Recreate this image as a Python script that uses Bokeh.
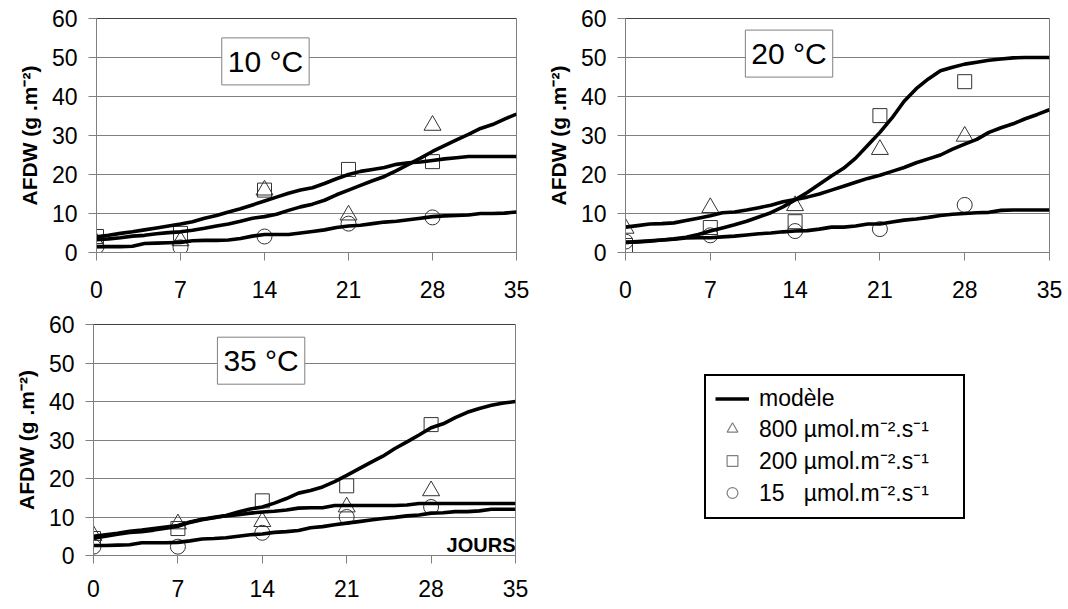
from bokeh.plotting import figure
from bokeh.models import Range1d, FixedTicker, Label, Legend, LegendItem, Span
from bokeh.layouts import column, row
from bokeh.embed import file_html
from bokeh.resources import INLINE

FONT = "Liberation Sans"

# ---------------- data ----------------
days_model = list(range(0, 36))
days_obs = [0, 7, 14, 21, 28]
x_ticks = [0, 7, 14, 21, 28, 35]
y_ticks = [0, 10, 20, 30, 40, 50, 60]

# 10 °C
m10_a = [4.0, 4.4, 4.9, 5.3, 5.8, 6.3, 6.8, 7.3, 7.9, 8.8, 9.5, 10.4, 11.2, 12.2, 13.2, 14.2, 15.2, 16.0,
         16.6, 17.7, 18.9, 20.0, 20.8, 21.3, 21.8, 22.6, 23.0, 23.2, 23.6, 24.0, 24.3, 24.6, 24.6, 24.6, 24.6, 24.6]
m10_b = [3.3, 3.5, 3.8, 4.2, 4.4, 4.8, 5.1, 5.3, 5.7, 6.2, 6.8, 7.3, 8.0, 8.8, 9.2, 9.8, 10.8, 11.7,
         12.4, 13.4, 14.8, 16.0, 17.2, 18.4, 19.5, 21.0, 22.6, 24.2, 25.9, 27.4, 28.9, 30.3, 31.8, 32.8, 34.2, 35.5]
m10_c = [1.5, 1.5, 1.5, 1.6, 2.3, 2.4, 2.5, 2.6, 3.0, 3.1, 3.1, 3.2, 3.6, 4.2, 4.6, 4.6, 4.6, 5.0,
         5.4, 5.8, 6.4, 6.8, 7.0, 7.4, 7.8, 8.0, 8.4, 8.8, 9.2, 9.4, 9.5, 9.6, 10.0, 10.0, 10.1, 10.4]
o10_800 = [2.5, 3.0, 16.0, 9.6, 32.6]
o10_200 = [4.1, 4.9, 16.0, 21.3, 23.3]
o10_15 = [1.5, 1.3, 4.1, 7.4, 9.0]

# 20 °C
m20_a = [2.6, 2.7, 2.9, 3.2, 3.5, 3.9, 4.6, 5.5, 6.3, 7.1, 8.0, 9.1, 10.2, 11.7, 13.5, 15.4, 17.5, 19.6,
         21.6, 24.2, 27.5, 30.8, 34.5, 38.8, 42.0, 44.5, 46.6, 47.5, 48.3, 48.8, 49.3, 49.6, 49.9, 50.0, 50.0, 50.0]
m20_b = [6.5, 6.9, 7.3, 7.4, 7.6, 8.2, 8.8, 9.4, 10.2, 10.4, 10.9, 11.5, 12.1, 13.0, 13.6, 14.2, 15.0, 16.0,
         17.0, 18.0, 19.0, 19.8, 20.8, 21.8, 23.0, 24.0, 25.0, 26.5, 27.8, 29.0, 30.8, 32.0, 33.0, 34.3, 35.4, 36.6]
m20_c = [2.6, 2.8, 3.0, 3.2, 3.4, 3.7, 3.8, 3.8, 4.0, 4.2, 4.5, 4.8, 5.0, 5.3, 5.5, 5.6, 6.0, 6.5,
         6.5, 6.8, 7.3, 7.3, 7.8, 8.3, 8.6, 9.0, 9.5, 9.8, 10.0, 10.2, 10.3, 10.8, 10.9, 10.9, 10.9, 10.9]
o20_800 = [6.2, 11.5, 12.0, 26.4, 29.8]
o20_200 = [1.8, 6.4, 7.9, 35.1, 43.8]
o20_15 = [2.8, 4.4, 5.5, 6.0, 12.2]

# 35 °C
m35_a = [5.0, 5.4, 5.8, 6.3, 6.6, 7.0, 7.4, 7.8, 8.7, 9.4, 9.9, 10.4, 11.3, 12.1, 12.6, 13.6, 14.8, 16.2,
         16.9, 17.8, 19.2, 20.8, 22.5, 24.2, 25.8, 27.8, 29.5, 31.3, 33.2, 34.2, 35.8, 37.2, 38.2, 39.0, 39.6, 40.0]
m35_b = [4.5, 5.0, 5.5, 6.0, 6.2, 6.6, 7.1, 7.6, 8.6, 9.3, 9.8, 10.3, 10.6, 11.0, 11.3, 11.5, 11.8, 12.3,
         12.4, 12.4, 13.0, 13.0, 13.0, 13.0, 13.0, 13.0, 13.1, 13.5, 13.5, 13.5, 13.5, 13.5, 13.5, 13.5, 13.5, 13.5]
m35_c = [2.6, 2.6, 2.7, 2.8, 3.3, 3.3, 3.3, 3.4, 3.8, 4.3, 4.4, 4.6, 5.0, 5.4, 5.6, 6.0, 6.2, 6.5,
         7.2, 7.5, 8.0, 8.4, 8.8, 9.2, 9.6, 9.9, 10.3, 10.5, 11.0, 11.1, 11.4, 11.4, 11.6, 12.0, 12.0, 12.0]
o35_800 = [5.2, 8.2, 8.8, 12.6, 16.8]
o35_200 = [4.4, 7.0, 14.2, 18.1, 34.0]
o35_15 = [2.3, 2.3, 5.9, 10.0, 12.6]

titles = ["10 °C", "20 °C", "35 °C"]
legend_labels = ["modèle",
                 "800 µmol.m⁻².s⁻¹",
                 "200 µmol.m⁻².s⁻¹",
                 "15\u00a0\u00a0\u00a0µmol.m⁻².s⁻¹"]
y_label = "AFDW (g .m⁻²)"

GRAY = "#808080"
MK = "#333333"


def panel(width, height, bl, br, bt, bb, models, obs, title, tx, ty, xstand):
    p = figure(width=width, height=height, x_range=Range1d(0, 35), y_range=Range1d(0, 60),
               output_backend="svg", toolbar_location=None,
               min_border_left=bl, min_border_right=br, min_border_top=bt, min_border_bottom=bb)
    p.outline_line_color = GRAY
    p.background_fill_color = "white"
    p.border_fill_color = "white"
    p.xgrid.visible = False
    p.ygrid.grid_line_color = GRAY
    p.ygrid.grid_line_width = 1

    p.xaxis.ticker = FixedTicker(ticks=x_ticks)
    p.yaxis.ticker = FixedTicker(ticks=y_ticks)
    for ax in (p.xaxis[0], p.yaxis[0]):
        ax.axis_line_color = GRAY
        ax.major_tick_line_color = GRAY
        ax.minor_tick_line_color = None
        ax.major_tick_out = 8
        ax.major_tick_in = 0
        ax.major_label_text_font = FONT
        ax.major_label_text_font_size = "23px"
        ax.major_label_text_color = "black"
    p.xaxis.major_label_standoff = xstand
    p.yaxis.major_label_standoff = 11
    p.yaxis.axis_label = y_label
    p.yaxis.axis_label_text_font = FONT
    p.yaxis.axis_label_text_font_style = "bold"
    p.yaxis.axis_label_text_font_size = "21px"
    p.yaxis.axis_label_text_color = "black"
    p.yaxis.axis_label_standoff = 8

    p.add_layout(Span(location=60, dimension="width", line_color="black", line_width=1))

    o800, o200, o15 = obs
    p.scatter(days_obs, o800, marker="triangle", size=17, fill_color=None, line_color=MK, line_width=1)
    p.scatter(days_obs, o200, marker="square", size=14, fill_color=None, line_color=MK, line_width=1)
    p.scatter(days_obs, o15, marker="circle", size=15, fill_color=None, line_color=MK, line_width=1)
    for m in models:
        p.line(days_model, m, line_color="black", line_width=3.6)

    p.add_layout(Label(x=tx, y=ty, text=title, text_align="center", text_baseline="middle",
                       text_font=FONT, text_font_size="30px", text_color="black",
                       border_line_color=GRAY, border_line_width=1, background_fill_color="white",
                       padding=dict(left=6, right=6, top=7, bottom=7)))
    return p


# row 1: height 310 ; row 2: height 299 (total 609)
p1 = panel(530, 310, 96, 14, 18, 58, [m10_a, m10_b, m10_c], [o10_800, o10_200, o10_15],
           titles[0], 14.08, 49.0, 20)
p2 = panel(538, 310, 95, 19, 18, 58, [m20_a, m20_b, m20_c], [o20_800, o20_200, o20_15],
           titles[1], 13.5, 51.0, 20)
p3 = panel(530, 299, 93, 15, 14, 54, [m35_a, m35_b, m35_c], [o35_800, o35_200, o35_15],
           titles[2], 13.9, 50.6, 16)
p3.add_layout(Label(x=35.0, y=2.8, text="JOURS", text_align="right", text_baseline="middle",
                    text_font=FONT, text_font_size="20px", text_font_style="bold", text_color="black"))

# legend panel
p4 = figure(width=538, height=299, x_range=Range1d(0, 35), y_range=Range1d(0, 60),
            output_backend="svg", toolbar_location=None,
            x_axis_location=None, y_axis_location=None,
            min_border_left=0, min_border_right=0, min_border_top=14, min_border_bottom=54)
p4.outline_line_color = None
p4.grid.visible = False
r_line = p4.line(days_model, m35_a, line_color="black", line_width=3.6, visible=False)
r_tri = p4.scatter(days_obs, o35_800, marker="triangle", fill_color=None, line_color=GRAY,
                   line_width=1.2, visible=False)
r_sq = p4.scatter(days_obs, o35_200, marker="square", fill_color=None, line_color=GRAY,
                  line_width=1.2, visible=False)
r_ci = p4.scatter(days_obs, o35_15, marker="circle", fill_color=None, line_color=GRAY,
                  line_width=1.2, visible=False)
legend = Legend(items=[LegendItem(label=legend_labels[0], renderers=[r_line]),
                       LegendItem(label=legend_labels[1], renderers=[r_tri]),
                       LegendItem(label=legend_labels[2], renderers=[r_sq]),
                       LegendItem(label=legend_labels[3], renderers=[r_ci])],
                location=(174, 36), border_line_color="black", border_line_width=2,
                border_line_alpha=1,
                background_fill_color="white", background_fill_alpha=1,
                inactive_fill_alpha=0,
                label_text_font=FONT, label_text_font_size="23px", label_text_color="black",
                glyph_width=34, glyph_height=27, label_height=26, label_width=195,
                spacing=0, padding=9, margin=0, label_standoff=10, click_policy="none")
p4.add_layout(legend)

layout = column(row(p1, p2), row(p3, p4))
open("out.html", "w").write(file_html(layout, INLINE))
